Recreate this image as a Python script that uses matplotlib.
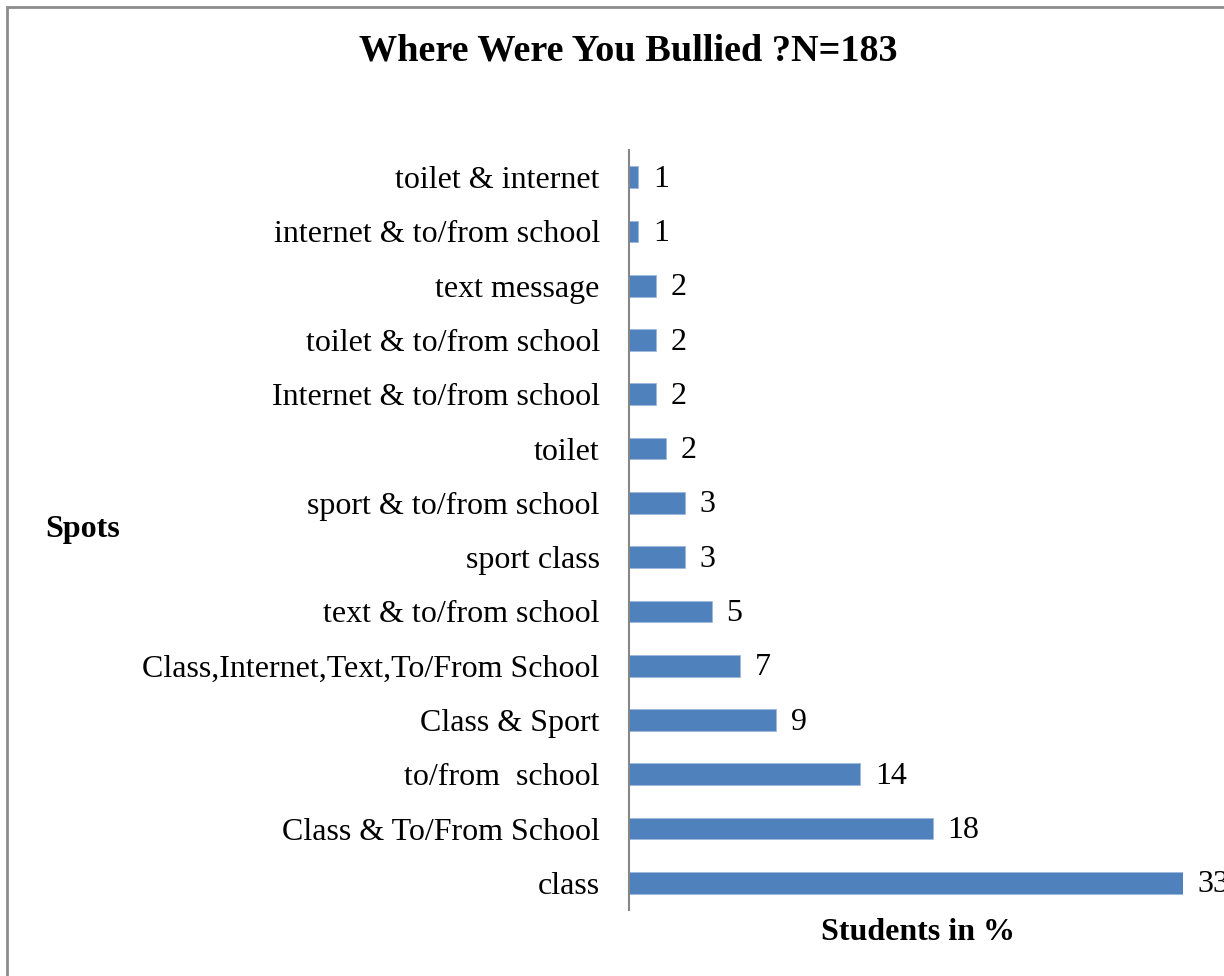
import matplotlib.pyplot as plt
from matplotlib.patches import Rectangle

plt.rcParams['font.family'] = ['Liberation Serif', 'DejaVu Serif']

# bottom to top as drawn
spots = ["class", "Class & To/From School", "to/from  school", "Class & Sport",
         "Class,Internet,Text,To/From School", "text & to/from school", "sport class",
         "sport & to/from school", "toilet", "Internet & to/from school",
         "toilet & to/from school", "text message", "internet & to/from school",
         "toilet & internet"]
percent = [32.8, 18.0, 13.7, 8.7, 6.6, 4.9, 3.3, 3.3, 2.2, 1.6, 1.6, 1.6, 0.55, 0.55]
shown = [33, 18, 14, 9, 7, 5, 3, 3, 2, 2, 2, 2, 1, 1]

fig = plt.figure(figsize=(12.24, 9.76), dpi=100)
W, H = 1224, 976

# chart frame (runs off the right and bottom of the picture)
fig.patches.append(Rectangle((7 / W, -0.05), 1.2, 1 - 7 / H + 0.05, transform=fig.transFigure,
                             fill=False, edgecolor="#8c8c8c", linewidth=2))

ax = fig.add_axes([629 / W, 1 - 910 / H, (1183 - 629) / W, (910 - 150) / H])
y = range(len(spots))
ax.barh(y, percent, height=0.4, color="#4F81BD", edgecolor="#9DB9DC", linewidth=0.6)

# the 33 label runs past the right edge, as in the original
for yi, v, s in zip(y, percent, shown):
    ax.annotate(str(s), (v, yi), xytext=(10.5, -1.5), textcoords="offset points",
                va="center", ha="left", fontsize=23, annotation_clip=False)

ax.set_xlim(0, 32.8)
ax.set_ylim(-0.5, len(spots) - 0.5)
ax.set_yticks(list(y))
ax.set_yticklabels(spots, fontsize=23)
ax.tick_params(axis="y", length=0, pad=21)
ax.set_xticks([])
for side in ["top", "right", "bottom"]:
    ax.spines[side].set_visible(False)
ax.spines["left"].set_color("#868686")
ax.spines["left"].set_linewidth(1.5)

fig.text(628 / W, 1 - 51 / H, "Where Were You Bullied ?N=183", ha="center", va="center",
         fontsize=27.5, fontweight="bold")
fig.text(45 / W, 1 - 530 / H, "Spots", ha="left", va="center", fontsize=23, fontweight="bold")
fig.text(918 / W, 1 - 933 / H, "Students in %", ha="center", va="center", fontsize=23,
         fontweight="bold")

fig.savefig("out.png", dpi=100)
